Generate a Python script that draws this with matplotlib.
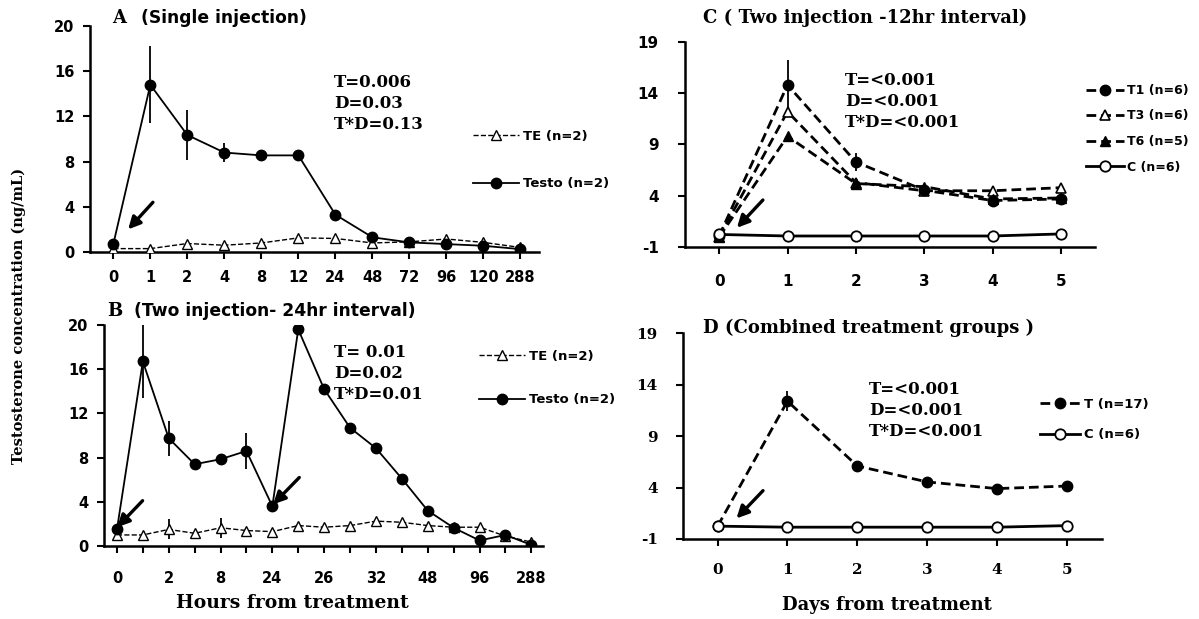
import numpy as np
import matplotlib.pyplot as plt

plt.rcParams['axes.unicode_minus'] = False

sansFont = 'DejaVu Sans'
serifFont = 'DejaVu Serif'

# A: single injection, hours after treatment
hoursA = ['0', '1', '2', '4', '8', '12', '24', '48', '72', '96', '120', '288']
testoA = [0.7, 14.8, 10.35, 8.8, 8.55, 8.55, 3.3, 1.3, 0.85, 0.7, 0.55, 0.25]
testoErrA = [0, 3.4, 2.2, 0.85, 0, 0, 0, 0, 0, 0, 0, 0]
teA = [0.3, 0.3, 0.75, 0.6, 0.8, 1.25, 1.2, 0.8, 0.9, 1.15, 0.85, 0.4]

# B: two injections 24 hr apart, only every other sample is labelled
hoursB = ['0', '', '2', '', '8', '', '24', '', '26', '', '32', '', '48', '', '96', '', '288']
testoB = [1.5, 16.7, 9.75, 7.4, 7.85, 8.6, 3.6, 19.6, 14.2, 10.7, 8.85, 6.1, 3.2, 1.65, 0.5, 1.0, 0.1]
testoErrB = [0, 3.3, 1.6, 0, 0, 1.6, 0, 0, 0, 0, 0, 0, 0, 0, 0, 0, 0]
teB = [1.0, 1.0, 1.5, 1.15, 1.65, 1.4, 1.3, 1.85, 1.7, 1.85, 2.25, 2.15, 1.85, 1.7, 1.7, 0.9, 0.35]
teErrB = [0, 0, 0.9, 0, 0.9, 0, 0, 0, 0, 0, 0, 0, 0, 0, 0, 0, 0]

# C: two injections 12 hr apart, days after treatment
daysC = [0, 1, 2, 3, 4, 5]
t1C = [0.1, 14.8, 7.3, 4.55, 3.55, 3.7]
t1ErrC = [0, 2.4, 0.9, 0, 0, 0]
t3C = [0.0, 12.2, 5.3, 4.5, 4.5, 4.8]
t6C = [0.0, 9.8, 5.2, 4.9, 3.7, 3.8]
ctrlC = [0.25, 0.1, 0.1, 0.1, 0.1, 0.3]

# D: all treated animals pooled
daysD = [0, 1, 2, 3, 4, 5]
tD = [0.25, 12.4, 6.1, 4.55, 3.9, 4.15]
tErrD = [0, 1.0, 0, 0, 0, 0]
ctrlD = [0.25, 0.15, 0.15, 0.15, 0.15, 0.3]

statsA = 'T=0.006\nD=0.03\nT*D=0.13'
statsB = 'T= 0.01\nD=0.02\nT*D=0.01'
statsC = 'T=<0.001\nD=<0.001\nT*D=<0.001'
statsD = 'T=<0.001\nD=<0.001\nT*D=<0.001'

W, H = 1199, 619
fig = plt.figure(figsize=(W / 100, H / 100), dpi=100)


def box(x0, y0, x1, y1):  # pixel box (top-left origin) -> figure fraction rect
    return [x0 / W, 1 - y1 / H, (x1 - x0) / W, (y1 - y0) / H]


def fpos(x, y):
    return x / W, 1 - y / H


def styleAxes(ax, tickFont, tickSize, xpad, ypad):
    for s in ['top', 'right']:
        ax.spines[s].set_visible(False)
    for s in ['left', 'bottom']:
        ax.spines[s].set_linewidth(1.8)
    ax.tick_params(direction='out', length=5, width=1.5)
    ax.tick_params(axis='x', pad=xpad)
    ax.tick_params(axis='y', pad=ypad)
    for lab in ax.get_xticklabels() + ax.get_yticklabels():
        lab.set_fontfamily(tickFont)
        lab.set_fontweight('bold')
        lab.set_fontsize(tickSize)


def arrow(ax, tail, head):
    ax.annotate('', xy=head, xytext=tail,
                arrowprops=dict(arrowstyle='-|>', lw=2.4, color='k', mutation_scale=18,
                                shrinkA=0, shrinkB=0))


def errbars(ax, x, y, err):
    ax.errorbar(x, y, yerr=err, fmt='none', ecolor='k', elinewidth=1.3, capsize=0, zorder=2)


def legendAt(ax, x, y, size, spacing, hlen):
    lx, ly = fpos(x, y)
    leg = ax.legend(loc='upper left', bbox_to_anchor=(lx, ly), bbox_transform=fig.transFigure,
                    frameon=False, borderpad=0, borderaxespad=0, handlelength=hlen,
                    handletextpad=0.3, labelspacing=spacing, numpoints=1,
                    prop={'family': sansFont, 'weight': 'bold', 'size': size})
    return leg


# ---- panel A
axA = fig.add_axes(box(90, 26, 539, 252))
xA = np.arange(len(hoursA))
errbars(axA, xA, testoA, testoErrA)
axA.plot(xA, teA, ls='--', lw=1.0, color='k', marker='^', ms=6.5, mfc='white', mec='k', mew=1.0,
         label='TE (n=2)', zorder=3)
axA.plot(xA, testoA, ls='-', lw=1.3, color='k', marker='o', ms=7.5, label='Testo (n=2)', zorder=4)
axA.set_xticks(xA)
axA.set_xticklabels(hoursA)
axA.set_xlim(-0.63, 11.5)
axA.set_ylim(0, 20)
axA.set_yticks([0, 4, 8, 12, 16, 20])
styleAxes(axA, sansFont, 10.5, 8, 6)
arrow(axA, (1.07, 4.4), (0.4, 2.0))
legendAt(axA, 473, 130, 9.5, 2.6, 3.5)

# ---- panel B
axB = fig.add_axes(box(104, 325, 543, 546))
xB = np.arange(len(hoursB))
errbars(axB, xB, teB, teErrB)
errbars(axB, xB, testoB, testoErrB)
axB.plot(xB, teB, ls='--', lw=1.0, color='k', marker='^', ms=6.5, mfc='white', mec='k', mew=1.0,
         label='TE (n=2)', zorder=3)
axB.plot(xB, testoB, ls='-', lw=1.3, color='k', marker='o', ms=7.5, label='Testo (n=2)', zorder=4)
axB.set_xticks(xB)
axB.set_xticklabels(hoursB)
axB.set_xlim(-0.5, 16.45)
axB.set_ylim(0, 20)
axB.set_yticks([0, 4, 8, 12, 16, 20])
styleAxes(axB, sansFont, 10.5, 13, 6)
arrow(axB, (0.99, 4.1), (0.01, 1.7))
arrow(axB, (7.04, 6.2), (6.03, 3.77))
legendAt(axB, 479, 350, 9.5, 2.3, 3.5)

# ---- panel C
axC = fig.add_axes(box(685, 41.7, 1095, 247.3))
dash = (0, (3.5, 1.8))
errbars(axC, daysC, t1C, t1ErrC)
axC.plot(daysC, t1C, ls=dash, lw=2.0, color='k', marker='o', ms=7.5, label='T1 (n=6)', zorder=4)
axC.plot(daysC, t3C, ls=dash, lw=2.0, color='k', marker='^', ms=7.5, mfc='white', mec='k', mew=1.2,
         label='T3 (n=6)', zorder=3)
axC.plot(daysC, t6C, ls=dash, lw=2.0, color='k', marker='^', ms=7.5, label='T6 (n=5)', zorder=3)
axC.plot(daysC, ctrlC, ls='-', lw=2.0, color='k', marker='o', ms=7.5, mfc='white', mec='k', mew=1.3,
         label='C (n=6)', zorder=5)
axC.set_xticks(daysC)
axC.set_xlim(-0.5, 5.5)
axC.set_ylim(-1, 19)
axC.set_yticks([-1, 4, 9, 14, 19])
styleAxes(axC, sansFont, 11, 14, 14)
arrow(axC, (0.64, 3.6), (0.26, 0.9))
legendAt(axC, 1086, 84, 9, 1.0, 3.0)

# ---- panel D
axD = fig.add_axes(box(682.7, 333.3, 1101.7, 539))
errbars(axD, daysD, tD, tErrD)
axD.plot(daysD, tD, ls=dash, lw=2.0, color='k', marker='o', ms=7.5, label='T (n=17)', zorder=4)
axD.plot(daysD, ctrlD, ls='-', lw=2.0, color='k', marker='o', ms=7.5, mfc='white', mec='k', mew=1.3,
         label='C (n=6)', zorder=5)
axD.set_xticks(daysD)
axD.set_xlim(-0.5, 5.5)
axD.set_ylim(-1, 19)
axD.set_yticks([-1, 4, 9, 14, 19])
styleAxes(axD, serifFont, 11, 12, 13)
arrow(axD, (0.65, 3.7), (0.27, 1.0))
legendAt(axD, 1040, 398, 9.5, 1.3, 3.0)

# ---- titles, statistics and axis labels
serifBold = dict(family=serifFont, weight='bold')
sansBold = dict(family=sansFont, weight='bold')

fig.text(*fpos(112, 18), 'A', fontsize=13, va='center', **serifBold)
fig.text(*fpos(141, 18), '(Single injection)', fontsize=12.3, va='center', **sansBold)
fig.text(*fpos(107, 311), 'B', fontsize=13, va='center', **serifBold)
fig.text(*fpos(134, 311), '(Two injection- 24hr interval)', fontsize=12.3, va='center', **sansBold)
fig.text(*fpos(703, 18), 'C ( Two injection -12hr interval)', fontsize=13, va='center', **serifBold)
fig.text(*fpos(703, 328), 'D (Combined treatment groups )', fontsize=13, va='center', **serifBold)

fig.text(*fpos(334, 74), statsA, fontsize=12, va='top', linespacing=1.3, **serifBold)
fig.text(*fpos(334, 344), statsB, fontsize=12, va='top', linespacing=1.3, **serifBold)
fig.text(*fpos(845, 72), statsC, fontsize=12, va='top', linespacing=1.3, **serifBold)
fig.text(*fpos(869, 381), statsD, fontsize=12, va='top', linespacing=1.3, **serifBold)

fig.text(*fpos(292, 603), 'Hours from treatment', fontsize=13.5, ha='center', va='center', **serifBold)
fig.text(*fpos(887, 605), 'Days from treatment', fontsize=13, ha='center', va='center', **serifBold)
fig.text(*fpos(19, 316), 'Testosterone concentration (ng/mL)', fontsize=10.5, rotation=90,
         ha='center', va='center', **serifBold)

fig.savefig('out.png', dpi=100)
